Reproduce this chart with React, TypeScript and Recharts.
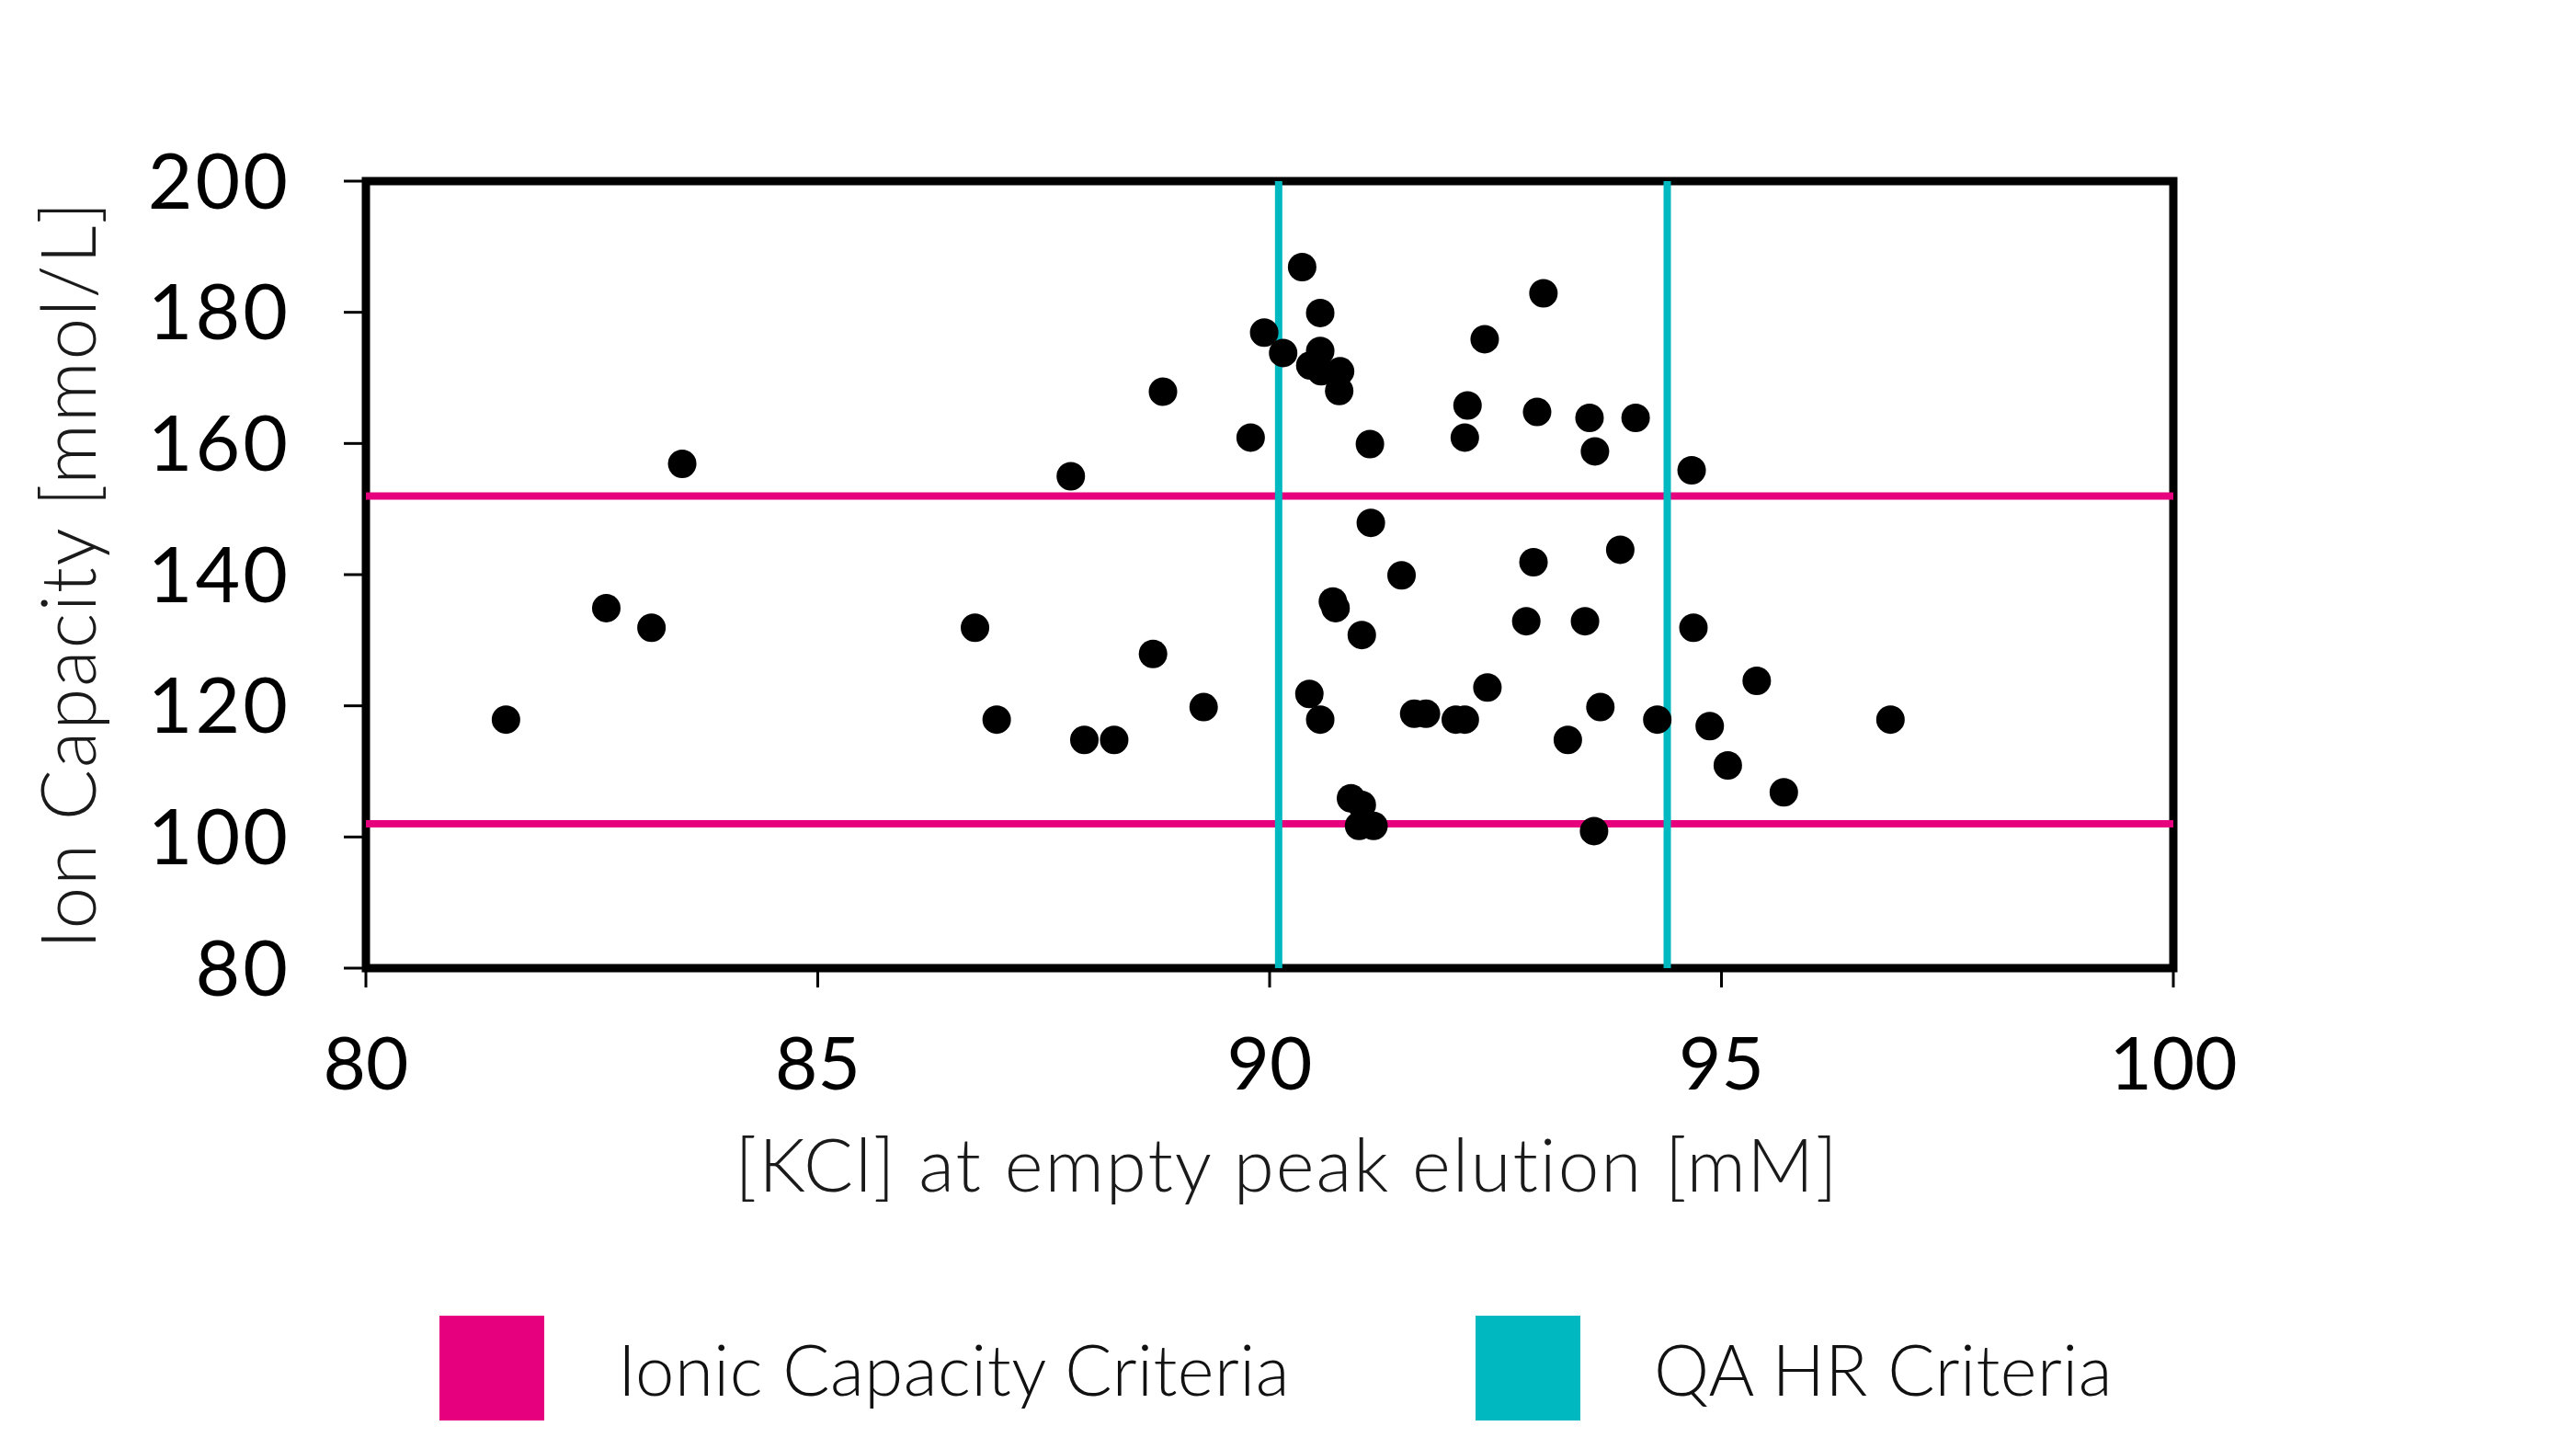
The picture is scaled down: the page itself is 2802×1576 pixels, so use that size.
import React from 'react';
import { ScatterChart, Scatter, XAxis, YAxis, ReferenceLine, ReferenceArea, Label } from 'recharts';

// [KCl] at empty peak elution (mM) and matching ion capacity (mmol/L)
const kcl = [
  81.55, 82.66, 83.16, 83.5, 86.74, 86.98, 87.8, 87.95, 88.28, 88.71, 88.82,
  89.27, 89.79, 89.94, 90.15, 90.36, 90.44, 90.45, 90.56, 90.56, 90.57, 90.56,
  90.7, 90.73, 90.78, 90.77, 90.9, 91.02, 90.99, 91.02, 91.11, 91.12, 91.15,
  91.46, 91.6, 91.73, 92.06, 92.16, 92.16, 92.19, 92.38, 92.41, 92.84, 92.92,
  92.96, 93.03, 93.3, 93.49, 93.54, 93.59, 93.6, 93.66, 93.88, 94.05, 94.29,
  94.67, 94.69, 94.87, 95.07, 95.39, 95.69, 96.87,
];
const capacity = [
  117.9, 134.9, 131.9, 156.9, 131.9, 117.9, 155, 114.8, 114.8, 127.9, 167.9,
  119.8, 160.9, 176.9, 173.8, 186.9, 121.8, 171.9, 179.9, 174.1, 171, 117.9,
  135.9, 134.9, 171, 168, 105.9, 104.9, 101.7, 130.8, 159.9, 147.9, 101.7,
  139.9, 118.8, 118.8, 117.9, 117.9, 160.9, 165.8, 175.9, 122.8, 132.9, 141.9,
  164.8, 182.9, 114.8, 132.9, 163.9, 100.9, 158.8, 119.8, 143.8, 163.9, 117.9,
  155.9, 131.9, 116.9, 110.9, 123.8, 106.8, 117.9,
];

const xTicks = [80, 85, 90, 95, 100];
const yTicks = [80, 100, 120, 140, 160, 180, 200];
const ionicCapacityLimits = [102, 152];
const qaHrLimits = [90.1, 94.4];
const legendLabels = ['Ionic Capacity Criteria', 'QA HR Criteria'];

const PINK = '#E6007E';
const CYAN = '#00B8BF';
const FONT = 'Lato, "Open Sans", sans-serif';
const legendColors = [PINK, CYAN];

const points = kcl.map((x, i) => ({ x, y: capacity[i] }));

function Dot(props: any) {
  const { cx, cy } = props;
  if (cx == null || cy == null) return null;
  return <circle cx={cx} cy={cy} r={15.5} fill="#000" />;
}

function YTitle(props: any) {
  const vb = props.viewBox;
  const x = vb.x + 104;
  const y = vb.y + vb.height / 2;
  return (
    <text x={x} y={y} transform={`rotate(-90 ${x} ${y})`} textAnchor="middle"
      fontSize={82} fontFamily={FONT} fontWeight={300} fill="#1a1a1a" letterSpacing={1.7}>
      Ion Capacity [mmol/L]
    </text>
  );
}

function ChartLegend() {
  return (
    <div style={{ position: 'absolute', left: 0, top: 1431, width: 2776, height: 114, display: 'flex', justifyContent: 'center', gap: 202, fontFamily: FONT }}>
      {legendLabels.map((label, i) => (
        <div key={label} style={{ display: 'flex', alignItems: 'center' }}>
          <div style={{ width: 114, height: 114, background: legendColors[i], marginRight: 80 }} />
          <span style={{ fontSize: 76, fontWeight: 300, color: '#111', whiteSpace: 'nowrap', letterSpacing: 0.5 }}>{label}</span>
        </div>
      ))}
    </div>
  );
}

export default function App() {
  return (
    <div style={{ position: 'absolute', left: 0, top: 0, width: 2802, height: 1576, background: '#fff' }}>
      <ScatterChart width={2802} height={1576} margin={{ top: 197, right: 438, bottom: 263, left: 0 }} style={{ fontFamily: FONT }}>
        <XAxis type="number" dataKey="x" domain={[80, 100]} ticks={xTicks} height={260}
          axisLine={false} tickSize={21} tickMargin={54}
          tickLine={{ stroke: '#000', strokeWidth: 3 }}
          tick={{ fontSize: 80, fill: '#000', fontFamily: FONT, fontWeight: 400 }}>
          <Label value="[KCl] at empty peak elution [mM]" position="insideBottom" offset={17} dx={19}
            style={{ fontSize: 80, fontFamily: FONT, fontWeight: 300, fill: '#1a1a1a', letterSpacing: 2 }} />
        </XAxis>
        <YAxis type="number" dataKey="y" domain={[80, 200]} ticks={yTicks} width={398}
          axisLine={false} tickSize={24} tickMargin={58}
          tickLine={{ stroke: '#000', strokeWidth: 3 }}
          tick={{ fontSize: 84, fill: '#000', fontFamily: FONT, fontWeight: 400, letterSpacing: 3 }}>
          <Label content={<YTitle />} />
        </YAxis>
        <Scatter data={points} shape={<Dot />} isAnimationActive={false} />
        {ionicCapacityLimits.map((v) => (
          <ReferenceLine key={'y' + v} y={v} stroke={PINK} strokeWidth={8} />
        ))}
        {qaHrLimits.map((v) => (
          <ReferenceLine key={'x' + v} x={v} stroke={CYAN} strokeWidth={8} />
        ))}
        <ReferenceArea x1={80} x2={100} y1={80} y2={200} fill="none" stroke="#000" strokeWidth={9} />
      </ScatterChart>
      <ChartLegend />
    </div>
  );
}
